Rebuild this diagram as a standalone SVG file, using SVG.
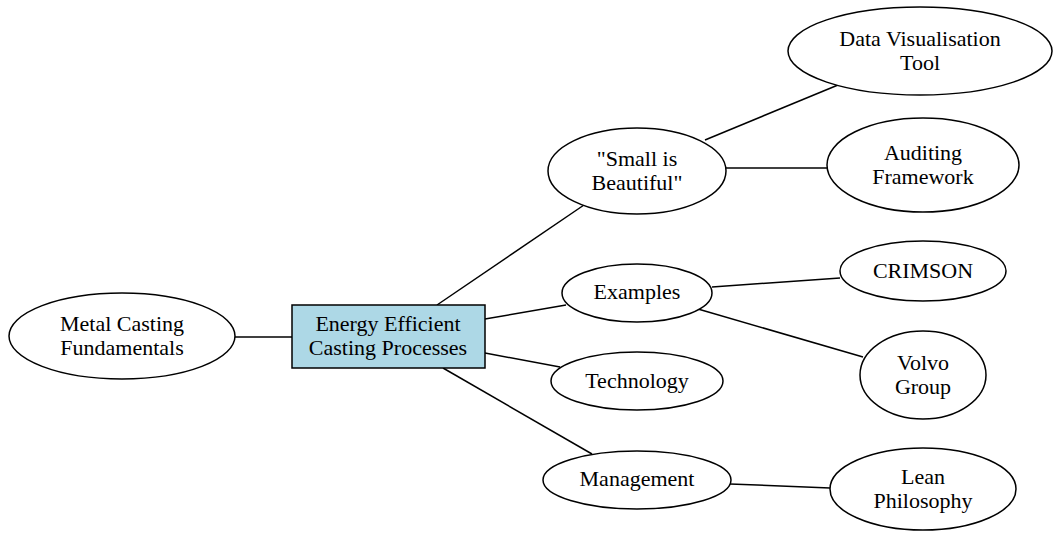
<svg xmlns="http://www.w3.org/2000/svg" width="1055" height="533" viewBox="0 0 1055 533">
<style>
.n{fill:#ffffff;stroke:#000000;stroke-width:1.5}
.r{fill:#add8e6;stroke:#000000;stroke-width:1.5}
.e{stroke:#000000;stroke-width:1.5;fill:none}
text{font-family:"Liberation Serif","Times New Roman",serif;font-size:22px;fill:#000000;text-anchor:middle}
</style>
<rect width="1055" height="533" fill="#ffffff"/>
<g id="connectors">
<line class="e" x1="235" y1="337" x2="292" y2="337"/>
<line class="e" x1="437" y1="305" x2="584" y2="205"/>
<line class="e" x1="485" y1="319" x2="566" y2="305"/>
<line class="e" x1="485" y1="353" x2="560" y2="367"/>
<line class="e" x1="443" y1="368" x2="592" y2="454"/>
<line class="e" x1="705" y1="140" x2="838" y2="85"/>
<line class="e" x1="725" y1="168" x2="827" y2="168"/>
<line class="e" x1="712" y1="287" x2="840" y2="278"/>
<line class="e" x1="698" y1="309" x2="863" y2="357"/>
<line class="e" x1="730" y1="484" x2="830" y2="488"/>
</g>
<g id="metal">
<ellipse class="n" cx="122" cy="336" rx="113" ry="43"/>
<text x="122" y="331">Metal Casting</text>
<text x="122" y="355">Fundamentals</text>
</g>
<g id="energy">
<rect class="r" x="292" y="305" width="193" height="63"/>
<text x="388" y="331">Energy Efficient</text>
<text x="388" y="355">Casting Processes</text>
</g>
<g id="small">
<ellipse class="n" cx="637" cy="171" rx="89" ry="43"/>
<text x="637" y="166">"Small is</text>
<text x="637" y="190">Beautiful"</text>
</g>
<g id="datavis">
<ellipse class="n" cx="920" cy="51" rx="132" ry="44"/>
<text x="920" y="46">Data Visualisation</text>
<text x="920" y="70">Tool</text>
</g>
<g id="auditing">
<ellipse class="n" cx="923" cy="165" rx="96" ry="47"/>
<text x="923" y="160">Auditing</text>
<text x="923" y="184">Framework</text>
</g>
<g id="examples">
<ellipse class="n" cx="637" cy="293" rx="75" ry="29"/>
<text x="637" y="299">Examples</text>
</g>
<g id="crimson">
<ellipse class="n" cx="923" cy="271" rx="83" ry="30"/>
<text x="923" y="278">CRIMSON</text>
</g>
<g id="volvo">
<ellipse class="n" cx="923" cy="375" rx="63" ry="44"/>
<text x="923" y="370">Volvo</text>
<text x="923" y="394">Group</text>
</g>
<g id="technology">
<ellipse class="n" cx="637" cy="381" rx="86" ry="29"/>
<text x="637" y="388">Technology</text>
</g>
<g id="management">
<ellipse class="n" cx="637" cy="480" rx="94" ry="29"/>
<text x="637" y="486">Management</text>
</g>
<g id="lean">
<ellipse class="n" cx="923" cy="489" rx="93" ry="41"/>
<text x="923" y="484">Lean</text>
<text x="923" y="508">Philosophy</text>
</g>
</svg>
